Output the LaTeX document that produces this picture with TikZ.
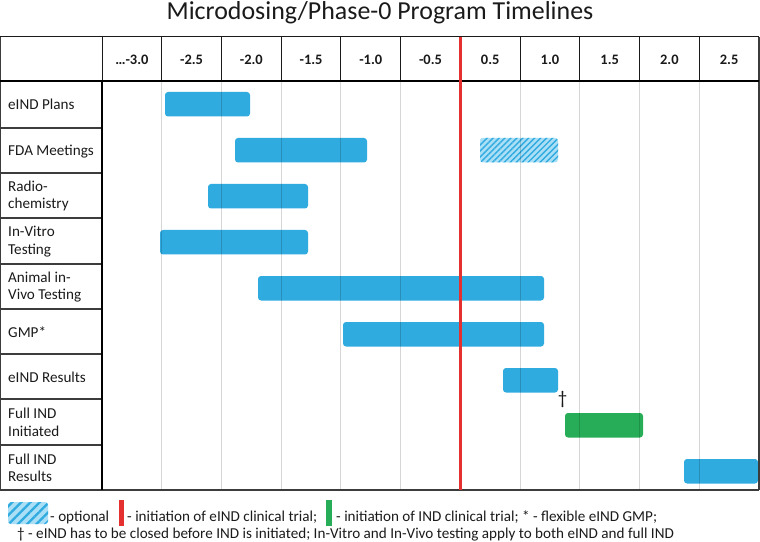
\documentclass[tikz,border=0pt]{standalone}
\usepackage{fontspec}
\setmainfont{Carlito}
\usetikzlibrary{patterns.meta}
\definecolor{MDBar}{HTML}{30ABE0}
\definecolor{MDBarLight}{HTML}{AADFF6}
\definecolor{MDGreen}{HTML}{27AD57}
\definecolor{MDRed}{HTML}{E4312F}
\definecolor{MDInk}{HTML}{1A1A1A}
\definecolor{MDRule}{HTML}{3C3C3C}
\tikzset{
  taskbar/.style={fill=MDBar,rounded corners=3bp},
  taskgreen/.style={taskbar,fill=MDGreen},
  taskopt/.style={rounded corners=3bp,preaction={fill=MDBarLight},
                  pattern={Lines[angle=45,distance=4.2bp,line width=1.4bp]},pattern color=MDBar},
  gridline/.style={draw=black,draw opacity=.16,line width=.9bp},
  rule/.style={draw=MDInk,line width=1bp},
  softrule/.style={draw=MDRule,line width=1.2bp},
  heavyrule/.style={draw=black,line width=2.6bp},
  zeroline/.style={draw=MDRed,line width=3.6bp},
  colhead/.style={text=MDInk,font=\fontsize{14.5}{17}\selectfont\bfseries,anchor=base,inner sep=0pt},
  rowhead/.style={text=MDInk,font=\fontsize{15.2}{17.5}\selectfont,align=left,anchor=west,inner sep=0pt},
  legendtxt/.style={text=MDInk,font=\fontsize{15.2}{18}\selectfont,anchor=base west,inner sep=0pt},
  charttitle/.style={text=MDInk,font=\fontsize{26}{30}\selectfont,anchor=base,inner sep=0pt},
}

\begin{document}
\begin{tikzpicture}[x=1bp,y=-1bp]
  \useasboundingbox (0,0) rectangle (760,542);

  \node[charttitle] (title) at (380,19.5) {Microdosing/Phase-0 Program Timelines};

  % bars
  \path[taskbar] (165,92) rectangle (250,116.5);
  \path[taskbar] (235,138) rectangle (367,162.5);
  \path[taskopt] (480,138) rectangle (558,162.5);
  \path[taskbar] (208,184) rectangle (308,208.5);
  \path[taskbar] (160,230) rectangle (308,254.5);
  \path[taskbar] (258,276) rectangle (544,300.5);
  \path[taskbar] (343,322) rectangle (544,346.5);
  \path[taskbar] (503,368) rectangle (558,392.5);
  \path[taskgreen] (565,413) rectangle (643,437.5);
  \path[taskbar] (684,459) rectangle (758,483.5);

  % grid + table frame
  \foreach \i in {1,...,10}
    \draw[gridline] ({102+\i*59.727},81) -- ({102+\i*59.727},490);
  \foreach \i in {0,...,10}
    \draw[rule] ({102+\i*59.727},37) -- ({102+\i*59.727},81);
  \foreach \yb in {128,173,218,264,309,354,399,445}
    \draw[softrule] (0,\yb) -- (102,\yb);
  \draw[rule] (0,37) -- (759,37);
  \draw[softrule] (0.6,37) -- (0.6,490);
  \draw[softrule] (759,37) -- (759,490);
  \draw[softrule] (0,490) -- (759,490);
  \draw[heavyrule] (102,81) -- (102,490);
  \draw[heavyrule] (0,81) -- (759,81);
  \draw[zeroline] (460.4,37) -- (460.4,490);

  % column heads
  \foreach \lab [count=\i] in {…-3.0,-2.5,-2.0,-1.5,-1.0,-0.5,0.5,1.0,1.5,2.0,2.5}
    \node[colhead] (col\i) at ({102+(\i-0.5)*59.727},65) {\lab};

  % row heads
  \foreach \lab/\yc [count=\i] in {eIND Plans/104.5,FDA Meetings/151.5,Radio-\\chemistry/196,
      In-Vitro\\Testing/241.5,Animal in-\\Vivo Testing/287,GMP*/332.5,eIND Results/377.5,
      Full IND\\Initiated/422.5,Full IND\\Results/468}
    \node[rowhead] (row\i) at (8,\yc) {\lab};

  \node[text=MDInk,font=\fontsize{19}{22}\selectfont,inner sep=0pt] (dagger) at (562.5,399.5) {†};

  % legend
  \path[taskopt,pattern={Lines[angle=45,distance=6.5bp,line width=2.3bp]}] (8,502) rectangle (48,524);
  \node[legendtxt] (legopt) at (50,521) {- optional};
  \fill[MDRed] (118.5,500) rectangle (124,526);
  \node[legendtxt] (legeind) at (127,521) {- initiation of eIND clinical trial;};
  \fill[MDGreen] (326,500) rectangle (331.5,526);
  \node[legendtxt] (legind) at (336,521) {- initiation of IND clinical trial; * - flexible eIND GMP;};
  \node[legendtxt] (legnote) at (17,538.5)
    {† - eIND has to be closed before IND is initiated; In-Vitro and In-Vivo testing apply to both eIND and full IND};
\end{tikzpicture}
\end{document}
